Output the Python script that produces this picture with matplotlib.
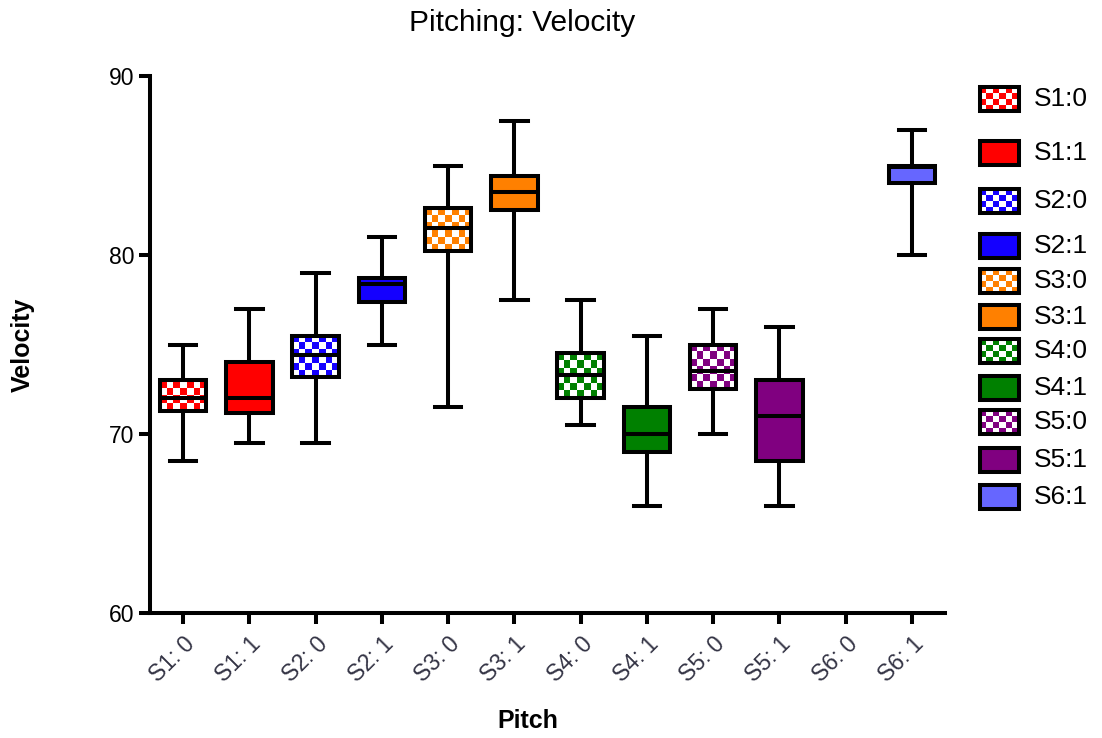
import matplotlib
matplotlib.use('Agg')
import matplotlib.pyplot as plt
import numpy as np
from matplotlib.colors import to_rgb
from matplotlib.patches import Rectangle

plt.rcParams['font.family'] = ['Liberation Sans', 'DejaVu Sans']

categories = ["S1: 0", "S1: 1", "S2: 0", "S2: 1", "S3: 0", "S3: 1",
              "S4: 0", "S4: 1", "S5: 0", "S5: 1", "S6: 0", "S6: 1"]
whis_low = [68.5, 69.5, 69.5, 75.0, 71.5, 77.5, 70.5, 66.0, 70.0, 66.0, None, 80.0]
q1 = [71.3, 71.2, 73.2, 77.4, 80.2, 82.5, 72.0, 69.0, 72.5, 68.5, None, 84.0]
med = [72.0, 72.0, 74.4, 78.4, 81.5, 83.5, 73.3, 70.0, 73.5, 71.0, None, 84.9]
q3 = [73.0, 74.0, 75.5, 78.7, 82.6, 84.4, 74.5, 71.5, 75.0, 73.0, None, 85.0]
whis_high = [75.0, 77.0, 79.0, 81.0, 85.0, 87.5, 77.5, 75.5, 77.0, 76.0, None, 87.0]
colors = ['#FF0000', '#FF0000', '#1400FF', '#1400FF', '#FF8000', '#FF8000',
          '#008000', '#008000', '#800080', '#800080', None, '#6666FF']
checkered = [True, False, True, False, True, False, True, False, True, False, False, False]

legend_labels = ["S1:0", "S1:1", "S2:0", "S2:1", "S3:0", "S3:1",
                 "S4:0", "S4:1", "S5:0", "S5:1", "S6:1"]
legend_idx = [0, 1, 2, 3, 4, 5, 6, 7, 8, 9, 11]
legend_y_px = [99, 153, 201, 246, 281, 317, 351, 388, 422, 460, 497]

W, H = 1102, 738
fig = plt.figure(figsize=(W / 100, H / 100), dpi=100)
L, R, T, B = 150, 945, 76, 613
ax = fig.add_axes([L / W, 1 - B / H, (R - L) / W, (B - T) / H])

LW = 2.9


def checker_img(color, nx, ny):
    rgb = np.array(to_rgb(color))
    arr = np.ones((ny, nx, 3))
    for i in range(ny):
        for j in range(nx):
            if (i + j) % 2 == 0:
                arr[i, j] = rgb
    return arr


stats, positions, idxs = [], [], []
for i in range(len(categories)):
    if med[i] is None:
        continue
    stats.append(dict(med=med[i], q1=q1[i], q3=q3[i], whislo=whis_low[i],
                      whishi=whis_high[i], fliers=[]))
    positions.append(i)
    idxs.append(i)

bp = ax.bxp(stats, positions=positions, widths=0.7, patch_artist=True,
            showfliers=False, capwidths=0.4,
            boxprops=dict(linewidth=LW, edgecolor='black'),
            whiskerprops=dict(linewidth=LW, color='black', solid_capstyle='butt'),
            capprops=dict(linewidth=LW, color='black'),
            medianprops=dict(linewidth=LW, color='black', zorder=4))

for patch, i in zip(bp['boxes'], idxs):
    patch.set_zorder(3)
    if checkered[i]:
        patch.set_facecolor('none')
        cw, ch = 0.105, 0.39
        nx = max(1, int(round(0.7 / cw)))
        ny = max(1, int(round((q3[i] - q1[i]) / ch)))
        im = ax.imshow(checker_img(colors[i], nx, ny),
                       extent=[i - 0.35, i + 0.35, q1[i], q3[i]],
                       aspect='auto', interpolation='nearest', zorder=2)
        im.set_clip_path(patch)
    else:
        patch.set_facecolor(colors[i])

ax.set_xlim(-0.5, 11.5)
ax.set_ylim(60, 90)
ax.set_yticks([60, 70, 80, 90])
ax.set_xticks(range(len(categories)))
ax.set_xticklabels(categories, rotation=45, ha='right', va='top',
                   rotation_mode='anchor', fontsize=16.5, color='#333344')
ax.tick_params(axis='y', labelsize=16.5, width=LW, length=8, direction='out')
ax.tick_params(axis='x', width=LW, length=8, direction='out', pad=6)
for s in ['top', 'right']:
    ax.spines[s].set_visible(False)
for s in ['left', 'bottom']:
    ax.spines[s].set_linewidth(LW)
    ax.spines[s].set_capstyle('projecting')

ax.set_ylabel('Velocity', fontsize=18, fontweight='bold', labelpad=42)
ax.set_xlabel('Pitch', fontsize=18, fontweight='bold', labelpad=14)
ax.xaxis.set_label_coords((528 - L) / (R - L), -0.178)
ax.yaxis.set_label_coords(-0.145, 0.5)

fig.text(522 / W, 1 - 23 / H, 'Pitching: Velocity', ha='center', va='center',
         fontsize=21.5)

# legend drawn in pixel coordinates
lax = fig.add_axes([0, 0, 1, 1])
lax.set_xlim(0, W)
lax.set_ylim(H, 0)
lax.axis('off')
for lab, i, yc in zip(legend_labels, legend_idx, legend_y_px):
    x0, x1 = 980, 1019
    y0, y1 = yc - 12, yc + 12
    rect = Rectangle((x0, y0), x1 - x0, y1 - y0, facecolor='none' if checkered[i] else colors[i],
                     edgecolor='black', linewidth=LW, zorder=3)
    lax.add_patch(rect)
    if checkered[i]:
        lax.imshow(checker_img(colors[i], 6, 4), extent=[x0, x1, y1, y0],
                   aspect='auto', interpolation='nearest', zorder=2)
    lax.text(1034, yc, lab, fontsize=19, va='center', ha='left')
lax.set_xlim(0, W)
lax.set_ylim(H, 0)

fig.savefig('out.png', dpi=100)
